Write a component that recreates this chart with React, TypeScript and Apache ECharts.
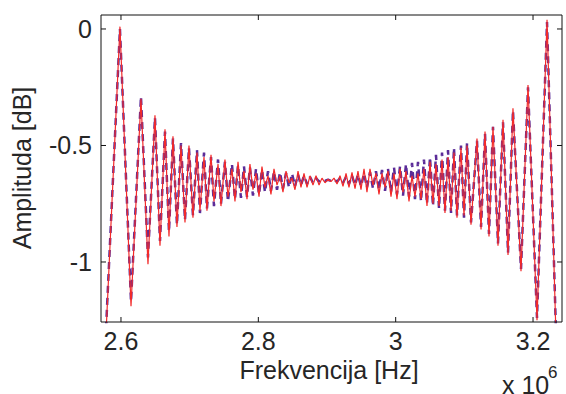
import React, { useEffect, useRef } from "react";
import * as echarts from "echarts";

// Frequency of each ripple extreme, in units of 10^6 Hz
const freqMHz = [
  2.5709, 2.5985, 2.6146, 2.6291, 2.6393, 2.6495, 2.6568, 2.6641, 2.6699, 2.6757,
  2.6815, 2.6874, 2.6932, 2.699, 2.7048, 2.7107, 2.715, 2.7209, 2.7252, 2.7311,
  2.7354, 2.7413, 2.7456, 2.7514, 2.7558, 2.7616, 2.766, 2.7704, 2.7747, 2.7791,
  2.7835, 2.7878, 2.7922, 2.7966, 2.801, 2.8053, 2.8097, 2.8141, 2.8184, 2.8228,
  2.8272, 2.8315, 2.8359, 2.8403, 2.8447, 2.849, 2.8534, 2.8578, 2.8621, 2.8665,
  2.8709, 2.8752, 2.8796, 2.884, 2.8884, 2.8927, 2.8971, 2.9015, 2.9058, 2.9102,
  2.9146, 2.9189, 2.9233, 2.9277, 2.932, 2.9364, 2.9408, 2.9451, 2.9495, 2.9539,
  2.9582, 2.9626, 2.967, 2.9713, 2.9757, 2.9801, 2.9845, 2.9888, 2.9932, 2.9976,
  3.0019, 3.0063, 3.0107, 3.015, 3.0194, 3.0238, 3.0281, 3.0325, 3.0369, 3.0412,
  3.0456, 3.05, 3.0543, 3.0587, 3.0631, 3.0675, 3.0718, 3.0762, 3.0806, 3.0849,
  3.0893, 3.0951, 3.0995, 3.1039, 3.1097, 3.1184, 3.1243, 3.1301, 3.1359, 3.1417,
  3.149, 3.1563, 3.1636, 3.1708, 3.1825, 3.1927, 3.2058, 3.2204, 3.2349, 3.2422,
];

// Theoretical amplitude (blue dashed), dB
const theoryDb = [
  -1.75, 0.0, -1.17, -0.29, -0.98, -0.38, -0.91, -0.44, -0.87, -0.47,
  -0.84, -0.49, -0.82, -0.51, -0.8, -0.52, -0.79, -0.53, -0.77, -0.55,
  -0.76, -0.56, -0.75, -0.57, -0.74, -0.58, -0.73, -0.585, -0.725, -0.59,
  -0.72, -0.595, -0.715, -0.6, -0.71, -0.605, -0.7, -0.61, -0.695, -0.612,
  -0.69, -0.615, -0.685, -0.618, -0.68, -0.62, -0.675, -0.625, -0.67, -0.63,
  -0.665, -0.635, -0.66, -0.64, -0.655, -0.645, -0.652, -0.647, -0.652, -0.645,
  -0.656, -0.64, -0.66, -0.635, -0.665, -0.63, -0.67, -0.625, -0.675, -0.62,
  -0.68, -0.615, -0.685, -0.61, -0.69, -0.605, -0.695, -0.6, -0.7, -0.595,
  -0.71, -0.59, -0.715, -0.58, -0.72, -0.575, -0.73, -0.57, -0.74, -0.56,
  -0.75, -0.55, -0.76, -0.54, -0.77, -0.53, -0.78, -0.52, -0.79, -0.51,
  -0.8, -0.5, -0.81, -0.49, -0.83, -0.48, -0.85, -0.45, -0.88, -0.42,
  -0.92, -0.4, -0.96, -0.35, -1.03, -0.25, -1.24, 0.03, -1.45, -1.9,
];

// Measured amplitude (red solid), dB
const measuredDb = [
  -1.78, 0.01, -1.19, -0.3, -1.01, -0.37, -0.93, -0.43, -0.89, -0.46,
  -0.85, -0.5, -0.83, -0.5, -0.81, -0.53, -0.78, -0.55, -0.78, -0.54,
  -0.74, -0.58, -0.76, -0.56, -0.72, -0.6, -0.74, -0.57, -0.7, -0.61,
  -0.73, -0.58, -0.69, -0.62, -0.72, -0.59, -0.68, -0.63, -0.71, -0.6,
  -0.67, -0.63, -0.7, -0.61, -0.66, -0.64, -0.69, -0.61, -0.68, -0.62,
  -0.68, -0.63, -0.67, -0.63, -0.67, -0.64, -0.66, -0.645, -0.655, -0.64,
  -0.665, -0.63, -0.675, -0.62, -0.68, -0.615, -0.685, -0.61, -0.69, -0.6,
  -0.7, -0.6, -0.67, -0.62, -0.71, -0.62, -0.68, -0.61, -0.72, -0.62,
  -0.73, -0.6, -0.7, -0.61, -0.74, -0.63, -0.72, -0.62, -0.73, -0.6,
  -0.76, -0.57, -0.75, -0.58, -0.76, -0.56, -0.79, -0.55, -0.78, -0.53,
  -0.81, -0.51, -0.8, -0.5, -0.84, -0.47, -0.86, -0.44, -0.89, -0.42,
  -0.93, -0.39, -0.97, -0.34, -1.04, -0.24, -1.25, 0.04, -1.47, -1.92,
];

const xTicks = [2.6, 2.8, 3, 3.2];
const yTicks = [-1, -0.5, 0];

const X_MIN = 2.5709;
const X_MAX = 3.2422;
const Y_MIN = -1.2575;
const Y_MAX = 0.06;

const FONT = "Liberation Sans, Arial, Helvetica, sans-serif";
const TXT = "#262626";
const AXIS = "#111111";

// Plot area size in pixels (grid), used only to turn a 5px tick length into axis units
const PLOT_W = 461;
const PLOT_H = 307;
const TICK_LEN = 5;
const TICK_DX = (TICK_LEN * (X_MAX - X_MIN)) / PLOT_W;
const TICK_DY = (TICK_LEN * (Y_MAX - Y_MIN)) / PLOT_H;

function frameLine(data: number[][]) {
  return {
    type: "line",
    symbol: "none",
    silent: true,
    clip: false,
    data,
    lineStyle: { color: AXIS, width: 1, type: "solid" },
    z: 10,
  };
}

export default function App() {
  const ref = useRef<HTMLDivElement>(null);
  useEffect(() => {
    if (!ref.current) return;
    const chart = echarts.init(ref.current, undefined, { renderer: "svg" });

    const frame = [
      frameLine([
        [X_MIN, Y_MIN],
        [X_MIN, Y_MAX],
        [X_MAX, Y_MAX],
        [X_MAX, Y_MIN],
        [X_MIN, Y_MIN],
      ]),
      ...xTicks.map((v) => frameLine([[v, Y_MIN], [v, Y_MIN + TICK_DY]])),
      ...xTicks.map((v) => frameLine([[v, Y_MAX], [v, Y_MAX - TICK_DY]])),
      ...yTicks.map((v) => frameLine([[X_MIN, v], [X_MIN + TICK_DX, v]])),
      ...yTicks.map((v) => frameLine([[X_MAX, v], [X_MAX - TICK_DX, v]])),
    ];

    chart.setOption({
      animation: false,
      grid: { left: 101, top: 15, width: PLOT_W, height: PLOT_H },
      xAxis: {
        type: "value",
        min: X_MIN,
        max: X_MAX,
        splitLine: { show: false },
        axisLine: { show: false },
        axisTick: { show: false },
        axisLabel: {
          customValues: xTicks,
          margin: 6,
          color: TXT,
          fontSize: 25,
          fontFamily: FONT,
          formatter: (v: number) => String(Number(v.toFixed(1))),
        },
      },
      yAxis: {
        type: "value",
        min: Y_MIN,
        max: Y_MAX,
        splitLine: { show: false },
        axisLine: { show: false },
        axisTick: { show: false },
        axisLabel: {
          customValues: yTicks,
          margin: 9,
          color: TXT,
          fontSize: 25,
          fontFamily: FONT,
          formatter: (v: number) => String(v),
        },
      },
      series: [
        {
          type: "line",
          symbol: "none",
          data: freqMHz.map((f, i) => [f, theoryDb[i]]),
          lineStyle: { color: "#5b2c98", width: 2.5, type: [7, 5] },
          z: 2,
        },
        {
          type: "line",
          symbol: "none",
          data: freqMHz.map((f, i) => [f, measuredDb[i]]),
          lineStyle: { color: "#f22a2a", width: 1.2 },
          z: 3,
        },
        ...frame,
      ],
      graphic: [
        {
          type: "text",
          x: 22,
          y: 168,
          rotation: Math.PI / 2,
          style: { text: "Amplituda [dB]", align: "center", verticalAlign: "middle", fill: TXT, font: `25px ${FONT}` },
        },
        {
          type: "text",
          x: 329,
          y: 370,
          style: { text: "Frekvencija [Hz]", align: "center", verticalAlign: "middle", fill: TXT, font: `25px ${FONT}` },
        },
        {
          type: "text",
          x: 502,
          y: 372,
          style: { text: "x 10", align: "left", verticalAlign: "top", fill: TXT, font: `25px ${FONT}` },
        },
        {
          type: "text",
          x: 548,
          y: 364,
          style: { text: "6", align: "left", verticalAlign: "top", fill: TXT, font: `17px ${FONT}` },
        },
      ],
    });
    return () => chart.dispose();
  }, []);
  return (
    <div ref={ref} style={{ position: "fixed", left: 0, top: 0, width: 566, height: 394, background: "#fff" }} />
  );
}
